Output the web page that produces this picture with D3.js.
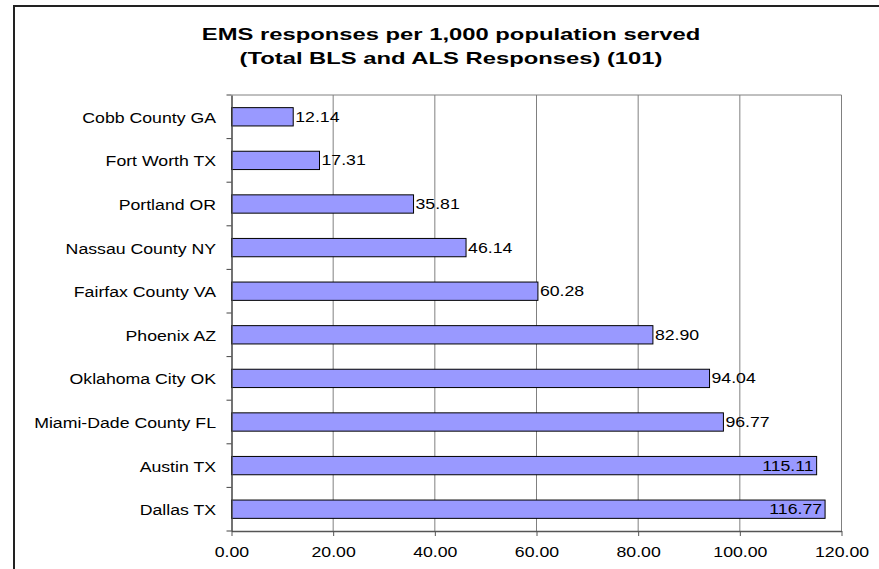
<!DOCTYPE html>
<html>
<head>
<meta charset="utf-8">
<script src="https://cdn.jsdelivr.net/npm/d3@7"></script>
<style>
  html, body { margin: 0; padding: 0; background: #fff; }
  svg { display: block; font-family: "Liberation Sans", Arial, sans-serif; }
</style>
</head>
<body>
<svg id="chart" width="879" height="569"></svg>
<script>
// EMS responses per 1,000 population served, by department
const categories = [
  "Cobb County GA", "Fort Worth TX", "Portland OR", "Nassau County NY",
  "Fairfax County VA", "Phoenix AZ", "Oklahoma City OK",
  "Miami-Dade County FL", "Austin TX", "Dallas TX"
];
const values = [12.14, 17.31, 35.81, 46.14, 60.28, 82.90, 94.04, 96.77, 115.11, 116.77];
const xTicks = [0, 20, 40, 60, 80, 100, 120];
const titleLines = ["EMS responses per 1,000 population served", "(Total BLS and ALS Responses) (101)"];

const svg = d3.select("#chart");
const W = 879, H = 569;
const plot = { left: 231.5, right: 841.5, top: 95, bottom: 531 };
const stretch = 1.18;       // horizontally widened lettering
const titleStretch = 1.4;

const x = d3.scaleLinear().domain([0, 120]).range([plot.left, plot.right]);
const y = d3.scaleBand().domain(categories).range([plot.top, plot.bottom]).paddingInner(0.58).paddingOuter(0.29);
const band = d3.scaleBand().domain(categories).range([plot.top, plot.bottom]);

// text helper: place text at (tx, ty) with horizontal widening
function stretchedText(g, tx, ty, str, anchor, size, weight, sx) {
  return g.append("text")
    .attr("transform", `translate(${tx},${ty}) scale(${sx || stretch},1)`)
    .attr("text-anchor", anchor)
    .attr("font-size", size)
    .attr("font-weight", weight || "normal")
    .attr("fill", "#000")
    .text(str);
}

// outer chart frame
svg.append("rect")
  .attr("x", 14).attr("y", 6)
  .attr("width", W + 20).attr("height", H + 20)
  .attr("fill", "#fff").attr("stroke", "#222").attr("stroke-width", 2);

// title
const tg = svg.append("g");
stretchedText(tg, 451, 40, titleLines[0], "middle", 17, "bold", titleStretch);
stretchedText(tg, 451, 64, titleLines[1], "middle", 17, "bold", titleStretch);

// gridlines and plot frame
const grid = svg.append("g");
grid.selectAll("line.v").data(xTicks.slice(1)).join("line")
  .attr("x1", d => x(d)).attr("x2", d => x(d))
  .attr("y1", plot.top).attr("y2", plot.bottom)
  .attr("stroke", "#808080").attr("stroke-width", 1);
grid.append("line")
  .attr("x1", plot.left).attr("x2", plot.right)
  .attr("y1", plot.top).attr("y2", plot.top)
  .attr("stroke", "#808080").attr("stroke-width", 1);

// bars
svg.append("g").selectAll("rect").data(values).join("rect")
  .attr("x", x(0))
  .attr("y", (d, i) => y(categories[i]))
  .attr("width", d => x(d) - x(0))
  .attr("height", y.bandwidth())
  .attr("fill", "#9999ff")
  .attr("stroke", "#000").attr("stroke-width", 1);

// axes
const xAxis = d3.axisBottom(x).tickValues(xTicks).tickFormat(d3.format(".2f")).tickSize(5).tickSizeOuter(0);
const xg = svg.append("g").attr("transform", `translate(0,${plot.bottom})`).call(xAxis);
xg.select(".domain").attr("stroke", "#555").attr("stroke-width", 1.5);
xg.selectAll(".tick line").attr("stroke", "#555");
xg.selectAll(".tick text").remove();
xg.selectAll(".tick").each(function(d) {
  stretchedText(d3.select(this), 0, 26, d3.format(".2f")(d), "middle", 15);
});

const yAxis = d3.axisLeft(band).tickSize(0).tickFormat("");
const yg = svg.append("g").attr("transform", `translate(${plot.left},0)`).call(yAxis);
yg.select(".domain").attr("stroke", "#444").attr("stroke-width", 1.5);
// tick marks at category boundaries
const bounds = categories.map(c => band(c)).concat([plot.bottom]);
yg.selectAll("line.b").data(bounds).join("line")
  .attr("x1", -5).attr("x2", 0)
  .attr("y1", d => d).attr("y2", d => d)
  .attr("stroke", "#444");

// category labels
const lg = svg.append("g");
categories.forEach(c => {
  stretchedText(lg, 216, band(c) + band.bandwidth() / 2 + 6, c, "end", 15);
});

// value labels: outside bar end, or inside when they would run past the plot
const vg = svg.append("g");
values.forEach((v, i) => {
  const cy = y(categories[i]) + y.bandwidth() / 2 + 5;
  const txt = v.toFixed(2);
  const t = stretchedText(vg, x(v) + 2, cy, txt, "start", 15);
  const w = t.node().getBBox().width * stretch;
  if (x(v) + 2 + w > plot.right) {
    t.attr("transform", `translate(${x(v) - 3},${cy}) scale(${stretch},1)`).attr("text-anchor", "end");
  }
});
</script>
</body>
</html>
